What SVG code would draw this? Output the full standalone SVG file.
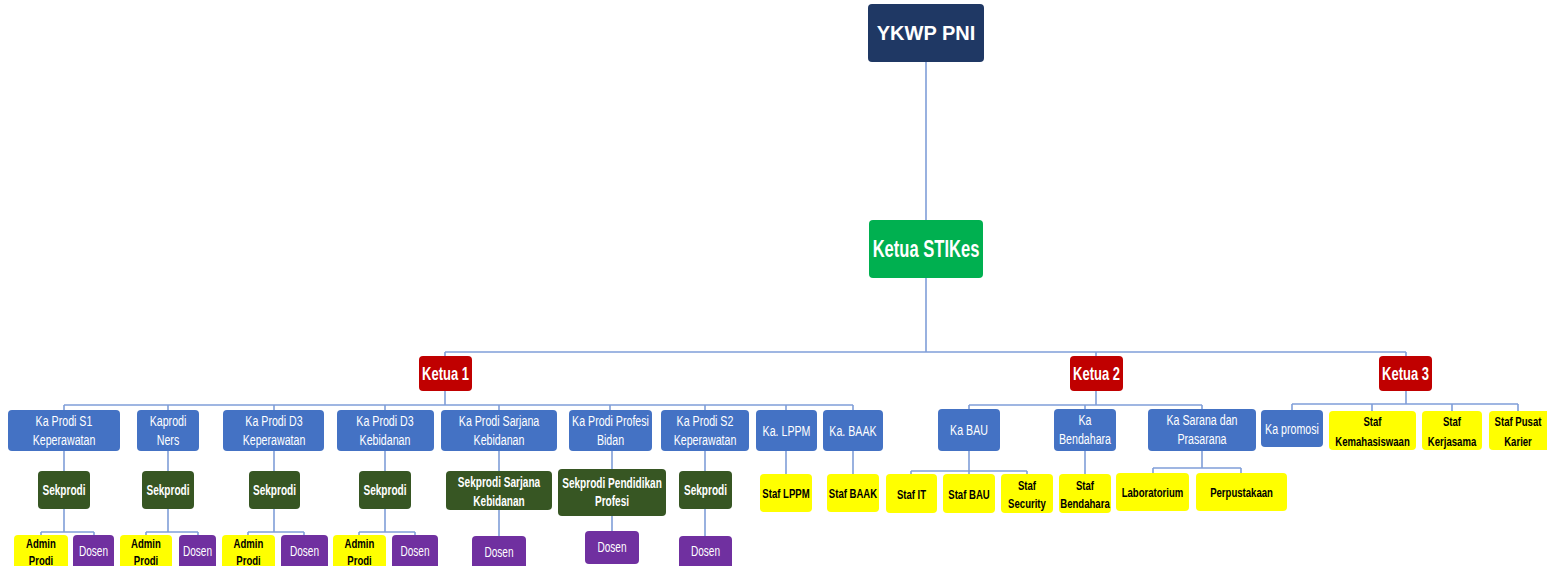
<svg xmlns="http://www.w3.org/2000/svg" width="1547" height="566" viewBox="0 0 1547 566">
<style>
.bx{rx:4;ry:4}
.navy{fill:#1f3864}
.grn{fill:#00b050}
.red{fill:#c00000}
.blu{fill:#4472c4}
.dg{fill:#375623}
.pur{fill:#7030a0}
.yel{fill:#ffff00}
text{font-family:'Liberation Sans',Arial,sans-serif;text-anchor:middle}
.w{fill:#ffffff;font-size:14.8px}
.wb{fill:#ffffff;font-size:14px;font-weight:bold}
.d{fill:#ffffff;font-size:14px}
.k{fill:#000000;font-size:13.3px;font-weight:bold}
.kt{fill:#ffffff;font-size:18px;font-weight:bold}
.conn line{stroke:#7f9ed8;stroke-width:1.6;fill:none}
</style>
<rect width="1547" height="566" fill="#ffffff"/>
<g class="conn" id="connectors">
<line x1="926" y1="62" x2="926" y2="220"/>
<line x1="926" y1="278" x2="926" y2="352"/>
<line x1="445" y1="352" x2="1406" y2="352"/>
<line x1="445" y1="352" x2="445" y2="356"/>
<line x1="1096" y1="352" x2="1096" y2="356"/>
<line x1="1406" y1="352" x2="1406" y2="356"/>
<line x1="445" y1="391" x2="445" y2="405"/>
<line x1="64" y1="405" x2="853" y2="405"/>
<line x1="64" y1="405" x2="64" y2="410"/>
<line x1="168" y1="405" x2="168" y2="410"/>
<line x1="274" y1="405" x2="274" y2="410"/>
<line x1="385" y1="405" x2="385" y2="410"/>
<line x1="499" y1="405" x2="499" y2="410"/>
<line x1="610" y1="405" x2="610" y2="410"/>
<line x1="705" y1="405" x2="705" y2="410"/>
<line x1="786" y1="405" x2="786" y2="410"/>
<line x1="853" y1="405" x2="853" y2="410"/>
<line x1="64" y1="451" x2="64" y2="471"/>
<line x1="168" y1="451" x2="168" y2="471"/>
<line x1="274" y1="451" x2="274" y2="471"/>
<line x1="385" y1="451" x2="385" y2="471"/>
<line x1="499" y1="451" x2="499" y2="471"/>
<line x1="612" y1="451" x2="612" y2="469"/>
<line x1="705" y1="451" x2="705" y2="471"/>
<line x1="786" y1="451" x2="786" y2="474"/>
<line x1="853" y1="451" x2="853" y2="474"/>
<line x1="64" y1="509" x2="64" y2="532"/>
<line x1="41" y1="532" x2="94" y2="532"/>
<line x1="41" y1="532" x2="41" y2="535"/>
<line x1="94" y1="532" x2="94" y2="535"/>
<line x1="168" y1="509" x2="168" y2="532"/>
<line x1="146" y1="532" x2="198" y2="532"/>
<line x1="146" y1="532" x2="146" y2="535"/>
<line x1="198" y1="532" x2="198" y2="535"/>
<line x1="274" y1="509" x2="274" y2="532"/>
<line x1="248" y1="532" x2="304" y2="532"/>
<line x1="248" y1="532" x2="248" y2="535"/>
<line x1="304" y1="532" x2="304" y2="535"/>
<line x1="385" y1="509" x2="385" y2="532"/>
<line x1="359" y1="532" x2="415" y2="532"/>
<line x1="359" y1="532" x2="359" y2="535"/>
<line x1="415" y1="532" x2="415" y2="535"/>
<line x1="499" y1="510" x2="499" y2="536"/>
<line x1="612" y1="516" x2="612" y2="531"/>
<line x1="705" y1="509" x2="705" y2="536"/>
<line x1="1096" y1="391" x2="1096" y2="405"/>
<line x1="969" y1="405" x2="1202" y2="405"/>
<line x1="969" y1="405" x2="969" y2="409"/>
<line x1="1085" y1="405" x2="1085" y2="409"/>
<line x1="1202" y1="405" x2="1202" y2="409"/>
<line x1="969" y1="451" x2="969" y2="471"/>
<line x1="911" y1="471" x2="1027" y2="471"/>
<line x1="911" y1="471" x2="911" y2="474"/>
<line x1="969" y1="471" x2="969" y2="474"/>
<line x1="1027" y1="471" x2="1027" y2="474"/>
<line x1="1085" y1="451" x2="1085" y2="474"/>
<line x1="1202" y1="451" x2="1202" y2="468"/>
<line x1="1153" y1="468" x2="1241" y2="468"/>
<line x1="1153" y1="468" x2="1153" y2="473"/>
<line x1="1241" y1="468" x2="1241" y2="473"/>
<line x1="1406" y1="391" x2="1406" y2="404"/>
<line x1="1292" y1="404" x2="1518" y2="404"/>
<line x1="1292" y1="404" x2="1292" y2="410"/>
<line x1="1372" y1="404" x2="1372" y2="411"/>
<line x1="1452" y1="404" x2="1452" y2="411"/>
<line x1="1518" y1="404" x2="1518" y2="411"/>
</g>

<g id="ykwp"><rect class="bx navy" x="868" y="4" width="116" height="58" rx="6"/><text x="926" y="40" style="font-size:20px;font-weight:bold;fill:#fff">YKWP PNI</text></g>
<g id="ketua-stikes"><rect class="bx grn" x="869" y="220" width="114" height="58" rx="6"/><text transform="translate(926 257) scale(.72 1)" style="fill:#fff;font-size:23px;font-weight:bold">Ketua STIKes</text></g>

<g id="ketua1"><rect class="bx red" x="419" y="356" width="53" height="35"/><text class="kt" transform="translate(445.5 380) scale(.72 1)">Ketua 1</text></g>
<g id="ketua2"><rect class="bx red" x="1070" y="356" width="53" height="35"/><text class="kt" transform="translate(1096.5 380) scale(.72 1)">Ketua 2</text></g>
<g id="ketua3"><rect class="bx red" x="1379" y="356" width="53" height="35"/><text class="kt" transform="translate(1405.5 380) scale(.72 1)">Ketua 3</text></g>

<g id="kaprodi-s1"><rect class="bx blu" x="8" y="410" width="112" height="41"/><text class="w" transform="translate(64 426) scale(.72 1)">Ka Prodi S1</text><text class="w" transform="translate(64 445) scale(.72 1)">Keperawatan</text></g>
<g id="kaprodi-ners"><rect class="bx blu" x="137" y="410" width="62" height="41"/><text class="w" transform="translate(168 426) scale(.72 1)">Kaprodi</text><text class="w" transform="translate(168 445) scale(.72 1)">Ners</text></g>
<g id="kaprodi-d3kep"><rect class="bx blu" x="223" y="410" width="101" height="41"/><text class="w" transform="translate(274 426) scale(.72 1)">Ka Prodi D3</text><text class="w" transform="translate(274 445) scale(.72 1)">Keperawatan</text></g>
<g id="kaprodi-d3keb"><rect class="bx blu" x="337" y="410" width="97" height="41"/><text class="w" transform="translate(385 426) scale(.72 1)">Ka Prodi D3</text><text class="w" transform="translate(385 445) scale(.72 1)">Kebidanan</text></g>
<g id="kaprodi-sarjkeb"><rect class="bx blu" x="441" y="410" width="116" height="41"/><text class="w" transform="translate(499 426) scale(.72 1)">Ka Prodi Sarjana</text><text class="w" transform="translate(499 445) scale(.72 1)">Kebidanan</text></g>
<g id="kaprodi-profesi"><rect class="bx blu" x="569" y="410" width="83" height="41"/><text class="w" transform="translate(610.5 426) scale(.72 1)">Ka Prodi Profesi</text><text class="w" transform="translate(610.5 445) scale(.72 1)">Bidan</text></g>
<g id="kaprodi-s2"><rect class="bx blu" x="661" y="410" width="88" height="41"/><text class="w" transform="translate(705 426) scale(.72 1)">Ka Prodi S2</text><text class="w" transform="translate(705 445) scale(.72 1)">Keperawatan</text></g>
<g id="ka-lppm"><rect class="bx blu" x="756" y="410" width="61" height="41"/><text class="w" transform="translate(786.5 436) scale(.72 1)">Ka. LPPM</text></g>
<g id="ka-baak"><rect class="bx blu" x="823" y="410" width="60" height="41"/><text class="w" transform="translate(853 436) scale(.72 1)">Ka. BAAK</text></g>

<g id="sek-s1"><rect class="bx dg" x="38" y="471" width="52" height="38"/><text class="wb" transform="translate(64 495) scale(.72 1)">Sekprodi</text></g>
<g id="sek-ners"><rect class="bx dg" x="142" y="471" width="52" height="38"/><text class="wb" transform="translate(168 495) scale(.72 1)">Sekprodi</text></g>
<g id="sek-d3kep"><rect class="bx dg" x="249" y="471" width="51" height="38"/><text class="wb" transform="translate(274.5 495) scale(.72 1)">Sekprodi</text></g>
<g id="sek-d3keb"><rect class="bx dg" x="359" y="471" width="52" height="38"/><text class="wb" transform="translate(385 495) scale(.72 1)">Sekprodi</text></g>
<g id="sek-sarjkeb"><rect class="bx dg" x="446" y="471" width="106" height="39"/><text class="wb" transform="translate(499 487) scale(.72 1)">Sekprodi Sarjana</text><text class="wb" transform="translate(499 506) scale(.72 1)">Kebidanan</text></g>
<g id="sek-profesi"><rect class="bx dg" x="558" y="469" width="108" height="47"/><text class="wb" transform="translate(612 488) scale(.72 1)">Sekprodi Pendidikan</text><text class="wb" transform="translate(612 506) scale(.72 1)">Profesi</text></g>
<g id="sek-s2"><rect class="bx dg" x="679" y="471" width="53" height="38"/><text class="wb" transform="translate(705.5 495) scale(.72 1)">Sekprodi</text></g>
<g id="staf-lppm"><rect class="bx yel" x="760" y="474" width="52" height="38"/><text class="k" transform="translate(786 498) scale(.72 1)">Staf LPPM</text></g>
<g id="staf-baak"><rect class="bx yel" x="827" y="474" width="52" height="38"/><text class="k" transform="translate(853 498) scale(.72 1)">Staf BAAK</text></g>

<g id="admin-s1"><rect class="bx yel" x="14" y="535" width="54" height="40"/><text class="k" transform="translate(41 548) scale(.72 1)">Admin</text><text class="k" transform="translate(41 565) scale(.72 1)">Prodi</text></g>
<g id="dosen-s1"><rect class="bx pur" x="73" y="535" width="41" height="40"/><text class="d" transform="translate(93.5 556) scale(.72 1)">Dosen</text></g>
<g id="admin-ners"><rect class="bx yel" x="120" y="535" width="52" height="40"/><text class="k" transform="translate(146 548) scale(.72 1)">Admin</text><text class="k" transform="translate(146 565) scale(.72 1)">Prodi</text></g>
<g id="dosen-ners"><rect class="bx pur" x="179" y="535" width="37" height="40"/><text class="d" transform="translate(197.5 556) scale(.72 1)">Dosen</text></g>
<g id="admin-d3kep"><rect class="bx yel" x="222" y="535" width="53" height="40"/><text class="k" transform="translate(248.5 548) scale(.72 1)">Admin</text><text class="k" transform="translate(248.5 565) scale(.72 1)">Prodi</text></g>
<g id="dosen-d3kep"><rect class="bx pur" x="281" y="535" width="47" height="40"/><text class="d" transform="translate(304.5 556) scale(.72 1)">Dosen</text></g>
<g id="admin-d3keb"><rect class="bx yel" x="333" y="535" width="53" height="40"/><text class="k" transform="translate(359.5 548) scale(.72 1)">Admin</text><text class="k" transform="translate(359.5 565) scale(.72 1)">Prodi</text></g>
<g id="dosen-d3keb"><rect class="bx pur" x="392" y="535" width="46" height="40"/><text class="d" transform="translate(415 556) scale(.72 1)">Dosen</text></g>
<g id="dosen-sarjkeb"><rect class="bx pur" x="472" y="536" width="54" height="40"/><text class="d" transform="translate(499 557) scale(.72 1)">Dosen</text></g>
<g id="dosen-profesi"><rect class="bx pur" x="585" y="531" width="54" height="33"/><text class="d" transform="translate(612 552) scale(.72 1)">Dosen</text></g>
<g id="dosen-s2"><rect class="bx pur" x="679" y="536" width="53" height="40"/><text class="d" transform="translate(705.5 556) scale(.72 1)">Dosen</text></g>

<g id="ka-bau"><rect class="bx blu" x="938" y="409" width="62" height="42"/><text class="w" transform="translate(969 435) scale(.72 1)">Ka BAU</text></g>
<g id="ka-bendahara"><rect class="bx blu" x="1054" y="409" width="62" height="42"/><text class="w" transform="translate(1085 425) scale(.72 1)">Ka</text><text class="w" transform="translate(1085 444) scale(.72 1)">Bendahara</text></g>
<g id="ka-sarana"><rect class="bx blu" x="1148" y="409" width="108" height="42"/><text class="w" transform="translate(1202 425) scale(.72 1)">Ka Sarana dan</text><text class="w" transform="translate(1202 444) scale(.72 1)">Prasarana</text></g>
<g id="staf-it"><rect class="bx yel" x="886" y="474" width="51" height="39"/><text class="k" transform="translate(911.5 498.5) scale(.72 1)">Staf IT</text></g>
<g id="staf-bau"><rect class="bx yel" x="943" y="474" width="52" height="39"/><text class="k" transform="translate(969 498.5) scale(.72 1)">Staf BAU</text></g>
<g id="staf-security"><rect class="bx yel" x="1001" y="474" width="52" height="39"/><text class="k" transform="translate(1027 490) scale(.72 1)">Staf</text><text class="k" transform="translate(1027 508) scale(.72 1)">Security</text></g>
<g id="staf-bendahara"><rect class="bx yel" x="1059" y="474" width="52" height="39"/><text class="k" transform="translate(1085 490) scale(.72 1)">Staf</text><text class="k" transform="translate(1085 508) scale(.72 1)">Bendahara</text></g>
<g id="laboratorium"><rect class="bx yel" x="1116" y="473" width="73" height="38"/><text class="k" transform="translate(1152.5 497) scale(.72 1)">Laboratorium</text></g>
<g id="perpustakaan"><rect class="bx yel" x="1196" y="473" width="91" height="38"/><text class="k" transform="translate(1241.5 497) scale(.72 1)">Perpustakaan</text></g>

<g id="ka-promosi"><rect class="bx blu" x="1261" y="410" width="62" height="37"/><text class="w" transform="translate(1292 434) scale(.72 1)">Ka promosi</text></g>
<g id="staf-kemahasiswaan"><rect class="bx yel" x="1329" y="411" width="87" height="39"/><text class="k" transform="translate(1372.5 426) scale(.72 1)">Staf</text><text class="k" transform="translate(1372.5 446) scale(.72 1)">Kemahasiswaan</text></g>
<g id="staf-kerjasama"><rect class="bx yel" x="1422" y="411" width="60" height="39"/><text class="k" transform="translate(1452 426) scale(.72 1)">Staf</text><text class="k" transform="translate(1452 446) scale(.72 1)">Kerjasama</text></g>
<g id="staf-pusat-karier"><rect class="bx yel" x="1489" y="411" width="62" height="39"/><text class="k" transform="translate(1518 426) scale(.72 1)">Staf Pusat</text><text class="k" transform="translate(1518 446) scale(.72 1)">Karier</text></g>
</svg>
